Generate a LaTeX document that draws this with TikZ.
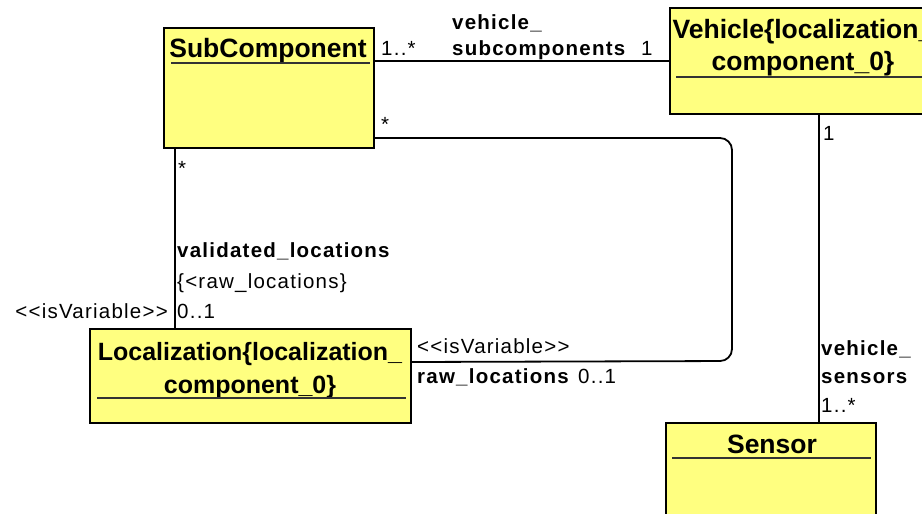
\documentclass[tikz,border=0pt]{standalone}
\usepackage{fontspec}
\setmainfont{Liberation Sans}
\newfontfamily\lblfont[LetterSpace=6]{Liberation Sans}
\definecolor{umlyellow}{RGB}{255,255,128}
\begin{document}
\begin{tikzpicture}[x=1pt,y=-1pt,
    classbox/.style={draw=black, line width=2pt, fill=umlyellow, anchor=north west, inner sep=0pt},
    classname/.style={font=\bfseries\fontsize{26.5}{32}\selectfont, align=center, anchor=base, inner sep=0pt},
    divider/.style={draw=black!80, line width=1.1pt},
    link/.style={draw=black, line width=1.8pt},
    lbl/.style={font=\lblfont\fontsize{20.5}{24}\selectfont, anchor=base west, inner sep=0pt},
    role/.style={lbl, font=\lblfont\bfseries\fontsize{20.5}{24}\selectfont}]
    \useasboundingbox (0,0) rectangle (922,514);
    \clip (0,0) rectangle (922,514);
    %SubComponent
    \node[classbox, minimum width=210pt, minimum height=120pt] (sub) at (163,27) {};
    \node[classname] (subname) at (268,57) {SubComponent};
    \draw[divider] (171,63) -- (370,63);
    %Vehicle
    \node[classbox, minimum width=268pt, minimum height=106pt] (veh) at (669,7) {};
    \node[classname] (vehname) at (803,70) {Vehicle\{localization\_\\component\_0\}};
    \draw[divider] (676,77) -- (930,77);
    %Localization
    \node[classbox, minimum width=321pt, minimum height=94pt] (loc) at (89,328) {};
    \node[classname, font=\bfseries\fontsize{25}{33}\selectfont] (locname) at (250,393) {Localization\{localization\_\\component\_0\}};
    \draw[divider] (97,398) -- (406,398);
    %Sensor
    \node[classbox, minimum width=210pt, minimum height=120pt] (sen) at (665,422) {};
    \node[classname] (senname) at (772,453) {Sensor};
    \draw[divider] (672,458) -- (871,458);
    %vehicle_subcomponents
    \draw[link] (sub.east |- veh.west) -- (veh.west);
    \node[lbl] (submult) at (381,55) {1..*};
    \node[role] (subrolea) at (452,30) {vehicle\_};
    \node[role] (subroleb) at (452,55) {subcomponents};
    \node[lbl] (vehmult) at (641,55) {1};
    %vehicle_sensors
    \draw[link] ([xshift=15pt]veh.south) -- ([xshift=48pt]sen.north);
    \node[lbl] (vehmultb) at (823,140) {1};
    \node[role] (senrolea) at (821,355) {vehicle\_};
    \node[role] (senroleb) at (821,383) {sensors};
    \node[lbl] (senmult) at (821,412) {1..*};
    %validated_locations
    \draw[link] ([xshift=12pt]sub.south west) -- ([xshift=86pt]loc.north west);
    \node[lbl] (valsub) at (178,175) {*};
    \node[role] (valrole) at (177,257) {validated\_locations};
    \node[lbl] (valcons) at (177,288) {\{<raw\_locations\}};
    \node[lbl] (valmult) at (177,318) {0..1};
    \node[lbl, anchor=base east] (valster) at (168,318) {<<isVariable>>};
    %raw_locations
    \draw[link, rounded corners=12pt] ([yshift=11pt]sub.south east) -| (732,361) -- ([yshift=14pt]loc.east);
    \node[lbl] (rawsub) at (381,131) {*};
    \node[lbl] (rawster) at (417,353) {<<isVariable>>};
    \node[role] (rawrole) at (417,383) {raw\_locations};
    \node[lbl] (rawmult) at (578,383) {0..1};
\end{tikzpicture}
\end{document}
